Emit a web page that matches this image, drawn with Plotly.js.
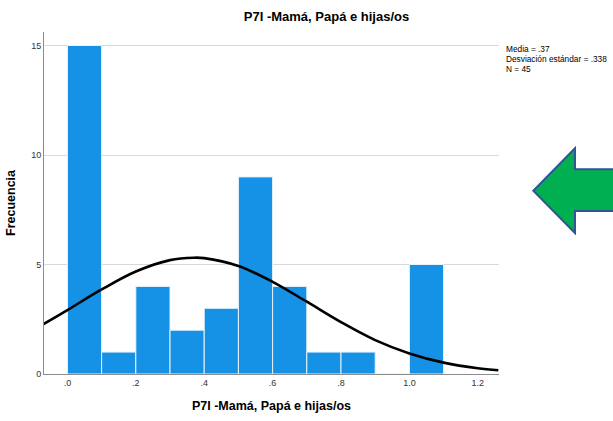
<!DOCTYPE html>
<html>
<head>
<meta charset="utf-8">
<script src="https://cdn.plot.ly/plotly-3.0.1.min.js"></script>
<style>html,body{margin:0;padding:0;background:#fff;}#chart{width:613px;height:421px;}</style>
</head>
<body>
<div id="chart"></div>
<script>
// Histogram bins (left edge of each 0.1-wide bin) and frequencies
const binStarts = [0.0, 0.1, 0.2, 0.3, 0.4, 0.5, 0.6, 0.7, 0.8, 0.9, 1.0];
const frequencies = [15, 1, 4, 2, 3, 9, 4, 1, 1, 0, 5];
const binWidth = 0.1;

// Fitted normal curve
const curveX = [-0.07, 0.0, 0.1, 0.2, 0.3, 0.37, 0.4, 0.5, 0.6, 0.7, 0.8, 0.9, 1.0, 1.1, 1.2, 1.26];
const curveY = [2.28, 2.92, 3.86, 4.68, 5.20, 5.31, 5.29, 4.93, 4.21, 3.30, 2.37, 1.55, 0.94, 0.52, 0.26, 0.17];

// Tick labels
const xTickVals = [0.0, 0.2, 0.4, 0.6, 0.8, 1.0, 1.2];
const xTickText = [".0", ".2", ".4", ".6", ".8", "1.0", "1.2"];
const yTickVals = [0, 5, 10, 15];
const yTickText = ["0", "5", "10", "15"];

const statsLines = ["Media = .37", "Desviación estándar = .338", "N = 45"];
const chartTitle = "P7I -Mamá, Papá e hijas/os";

const W = 613, H = 421;
const M = {l: 44, r: 114, t: 32, b: 47};
const pw = W - M.l - M.r, ph = H - M.t - M.b;
const px = x => (x - M.l) / pw;
const py = y => (H - M.b - y) / ph;

const barCenters = binStarts.map(s => s + binWidth / 2);

const bars = {
  type: 'bar',
  x: barCenters,
  y: frequencies,
  width: binWidth,
  marker: {color: '#1591e6', line: {color: '#e8f3fc', width: 1}},
  hoverinfo: 'skip'
};

const curve = {
  type: 'scatter',
  mode: 'lines',
  x: curveX,
  y: curveY,
  line: {color: '#000000', width: 2.6, shape: 'spline', smoothing: 1},
  hoverinfo: 'skip',
  cliponaxis: true
};

// Decorative arrow (pixel outline converted to paper coords)
const arrowPts = [[533.3,190.7],[575,148.3],[575,169.3],[615,169.3],[615,211],[575,211],[575,233]];
const arrowPath = 'M ' + arrowPts.map(p => px(p[0]).toFixed(4) + ',' + py(p[1]).toFixed(4)).join(' L ') + ' Z';

const layout = {
  width: W, height: H,
  margin: M,
  paper_bgcolor: '#ffffff',
  plot_bgcolor: '#ffffff',
  showlegend: false,
  bargap: 0,
  font: {family: 'Liberation Sans, Arial, sans-serif', color: '#000'},
  title: {
    text: '<b>' + chartTitle + '</b>',
    font: {size: 13, family: 'Liberation Sans, Arial, sans-serif', color: '#000'},
    x: px(326.5), xref: 'paper', xanchor: 'center',
    y: 1 - 16.7 / H, yref: 'container', yanchor: 'middle'
  },
  xaxis: {
    range: [-0.0685, 1.262],
    tickvals: xTickVals, ticktext: xTickText,
    showgrid: false, zeroline: false,
    showline: true, linecolor: '#8c8c8c', linewidth: 1,
    ticks: '', tickfont: {size: 9, color: '#333', family: 'Liberation Sans, Arial, sans-serif'},
    title: {text: '<b>' + chartTitle + '</b>', font: {size: 12.5, color: '#000'}, standoff: 14}
  },
  yaxis: {
    range: [0, (H - M.b - M.t) / 21.9],
    tickvals: yTickVals, ticktext: yTickText,
    showgrid: true, gridcolor: '#d9d9d9', gridwidth: 1,
    zeroline: false,
    showline: true, linecolor: '#8c8c8c', linewidth: 1,
    ticks: '', ticklen: 0,
    tickfont: {size: 9, color: '#333', family: 'Liberation Sans, Arial, sans-serif'},
    title: {text: '<b>Frecuencia</b>', font: {size: 12.5, color: '#000'}, standoff: 12}
  },
  annotations: statsLines.map((t, i) => ({
    text: t, showarrow: false,
    xref: 'paper', yref: 'paper',
    x: px(504), y: py(48.5 + i * 10.3),
    xanchor: 'left', yanchor: 'middle',
    font: {size: 8.3, family: 'Liberation Sans, Arial, sans-serif', color: '#000'}
  })),
  shapes: [{
    type: 'path', xref: 'paper', yref: 'paper',
    path: arrowPath,
    fillcolor: '#00b050',
    line: {color: '#2f5597', width: 2},
    layer: 'above'
  }]
};

Plotly.newPlot('chart', [bars, curve], layout, {displayModeBar: false, staticPlot: true});
</script>
</body>
</html>
